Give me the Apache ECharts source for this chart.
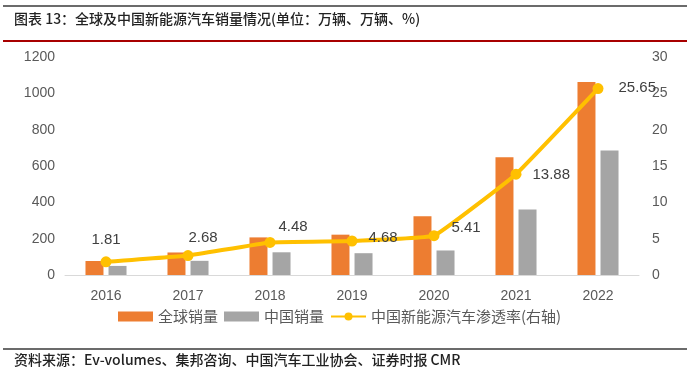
<!DOCTYPE html>
<html>
<head>
<meta charset="utf-8">
<script src="https://cdn.jsdelivr.net/npm/echarts@6/dist/echarts.min.js"></script>
<style>
  html, body { margin: 0; padding: 0; background: #fff; }
  #chart { width: 693px; height: 375px; }
</style>
</head>
<body>
<div id="chart"></div>
<script>
// 数据
const years = ['2016', '2017', '2018', '2019', '2020', '2021', '2022']
const globalSales = [77, 124, 207, 222, 324, 648, 1063]
const chinaSales = [50, 78, 125, 120, 135, 360, 686]
const penetration = [1.81, 2.68, 4.48, 4.68, 5.41, 13.88, 25.65]
const leftTicks = [0, 1200, 200]
const rightTicks = [0, 30, 5]

// 每个点的标签位置
const labelPos = [
  { position: 'top', offset: [0, -4] },
  { position: 'top', offset: [15, 0] },
  { position: 'top', offset: [23, 2] },
  { position: 'right', offset: [6, -3] },
  { position: 'right', offset: [7, -8] },
  { position: 'right', offset: [6, 1] },
  { position: 'right', offset: [10, -1] }
]

const chart = echarts.init(document.getElementById('chart'))
const cjk = '"Noto Sans CJK SC", sans-serif'

const option = {
  animation: false,
  graphic: [
    { type: 'rect', shape: { x: 3, y: 5, width: 684, height: 2 }, style: { fill: '#6b6b6b' } },
    { type: 'rect', shape: { x: 3, y: 40, width: 684, height: 2 }, style: { fill: '#a80000' } },
    { type: 'rect', shape: { x: 3, y: 348, width: 684, height: 2 }, style: { fill: '#6b6b6b' } },
    {
      type: 'text', left: 14, top: 12,
      style: { text: '图表 13：全球及中国新能源汽车销量情况(单位：万辆、万辆、%)', font: '500 14px ' + cjk, fill: '#222' }
    },
    {
      type: 'text', left: 14, top: 353,
      style: { text: '资料来源：Ev-volumes、集邦咨询、中国汽车工业协会、证券时报 CMR', font: '500 14px ' + cjk, fill: '#222' }
    }
  ],
  legend: {
    bottom: 46,
    left: 113,
    itemGap: 6,
    itemWidth: 35,
    itemHeight: 10,
    textStyle: { fontFamily: cjk, fontSize: 15, color: '#595959' },
    data: [
      { name: '全球销量', icon: 'rect' },
      { name: '中国销量', icon: 'rect' },
      { name: '中国新能源汽车渗透率(右轴)' }
    ]
  },
  grid: { left: 65, right: 54, top: 57, bottom: 100 },
  xAxis: {
    type: 'category',
    data: years,
    axisLine: { lineStyle: { color: '#d9d9d9', width: 1 } },
    axisTick: { show: false },
    axisLabel: { color: '#595959', fontSize: 14, margin: 14, fontFamily: 'Arial' }
  },
  yAxis: [
    {
      type: 'value',
      min: leftTicks[0], max: leftTicks[1], interval: leftTicks[2],
      axisLine: { show: false }, axisTick: { show: false },
      splitLine: { show: false },
      axisLabel: { color: '#595959', fontSize: 14, margin: 10, fontFamily: 'Arial', formatter: v => String(v) }
    },
    {
      type: 'value',
      min: rightTicks[0], max: rightTicks[1], interval: rightTicks[2],
      axisLine: { show: false }, axisTick: { show: false },
      splitLine: { show: false },
      axisLabel: { color: '#595959', fontSize: 14, margin: 13, fontFamily: 'Arial', formatter: v => String(v) }
    }
  ],
  series: [
    {
      name: '全球销量',
      type: 'bar',
      data: globalSales,
      barWidth: 18,
      barGap: '28%',
      itemStyle: { color: '#ed7d31' }
    },
    {
      name: '中国销量',
      type: 'bar',
      data: chinaSales,
      barWidth: 18,
      itemStyle: { color: '#a5a5a5' }
    },
    {
      name: '中国新能源汽车渗透率(右轴)',
      type: 'line',
      yAxisIndex: 1,
      smooth: 0.08,
      symbol: 'circle',
      symbolSize: 11,
      z: 5,
      lineStyle: { color: '#ffc000', width: 4 },
      itemStyle: { color: '#ffc000' },
      label: {
        show: true,
        color: '#404040',
        fontSize: 15,
        fontFamily: 'Arial'
      },
      data: penetration.map((v, i) => ({ value: v, label: labelPos[i] }))
    }
  ]
}

chart.setOption(option)
</script>
</body>
</html>
